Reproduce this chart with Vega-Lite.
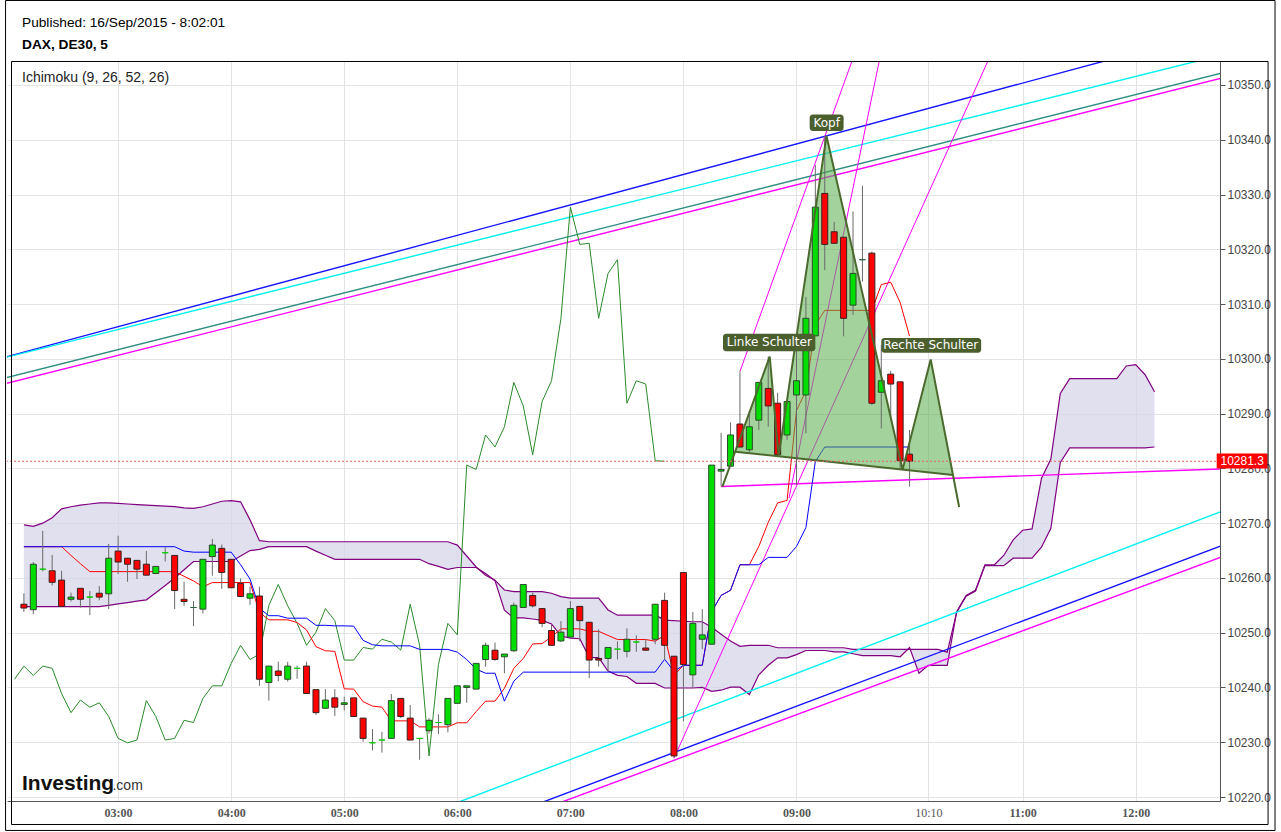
{
"$schema": "https://vega.github.io/schema/vega-lite/v6.json",
"width": 1213, "height": 740,
"autosize": {"type": "none"},
"padding": {"left": 7, "top": 61, "right": 61, "bottom": 31},
"background": "white",
"config": {"view": {"stroke": null}, "font": "Liberation Sans"},
"resolve": {"axis": {"x": "independent", "y": "independent"}},
"layer": [
{
"data": {"values": [
{"t":"02:10","a":10254.75,"b":10269.7},{"t":"02:15","a":10254.75,"b":10269.4},{"t":"02:20","a":10254.75,"b":10270.0},{"t":"02:25","a":10254.75,"b":10271.0},{"t":"02:30","a":10254.75,"b":10272.6},{"t":"02:35","a":10254.75,"b":10273.0},{"t":"02:40","a":10254.75,"b":10273.3},{"t":"02:45","a":10254.75,"b":10273.5},{"t":"02:50","a":10254.75,"b":10273.7},{"t":"02:55","a":10255.0,"b":10273.7},
{"t":"03:00","a":10255.25,"b":10273.6},{"t":"03:05","a":10255.5,"b":10273.5},{"t":"03:10","a":10255.75,"b":10273.4},{"t":"03:15","a":10256.0,"b":10273.3},{"t":"03:20","a":10257.3,"b":10273.2},{"t":"03:25","a":10258.6,"b":10273.1},{"t":"03:30","a":10260.0,"b":10273.0},{"t":"03:35","a":10261.5,"b":10272.8},{"t":"03:40","a":10263.0,"b":10272.7},{"t":"03:45","a":10263.0,"b":10273.0},{"t":"03:50","a":10263.0,"b":10273.5},{"t":"03:55","a":10263.0,"b":10274.0},
{"t":"04:00","a":10263.0,"b":10274.1},{"t":"04:05","a":10264.0,"b":10273.9},{"t":"04:10","a":10265.0,"b":10270.6},{"t":"04:15","a":10265.2,"b":10266.8},{"t":"04:20","a":10265.7,"b":10266.6},{"t":"04:40","a":10265.7,"b":10266.6},{"t":"04:45","a":10264.9,"b":10266.6},{"t":"04:50","a":10264.15,"b":10266.6},{"t":"04:55","a":10263.4,"b":10266.6},
{"t":"05:40","a":10263.4,"b":10266.6},{"t":"05:45","a":10262.6,"b":10266.6},{"t":"05:50","a":10262.1,"b":10266.6},{"t":"05:55","a":10261.55,"b":10266.6},{"t":"06:00","a":10261.9,"b":10266.0},{"t":"06:05","a":10261.9,"b":10264.0},{"t":"06:10","a":10261.9,"b":10262.0},{"t":"06:15","a":10260.8,"b":10260.5},{"t":"06:20","a":10259.5,"b":10259.6},{"t":"06:25","a":10254.1,"b":10257.8},
{"t":"06:30","a":10252.7,"b":10257.5},{"t":"06:35","a":10252.7,"b":10257.5},{"t":"06:40","a":10252.5,"b":10257.5},{"t":"06:45","a":10252.25,"b":10257.5},{"t":"06:50","a":10251.6,"b":10257.2},{"t":"06:55","a":10249.4,"b":10256.6},{"t":"07:00","a":10249.0,"b":10256.3},{"t":"07:05","a":10248.9,"b":10256.3},{"t":"07:10","a":10245.5,"b":10256.3},{"t":"07:15","a":10245.45,"b":10256.3},{"t":"07:20","a":10243.0,"b":10254.15},{"t":"07:25","a":10242.2,"b":10253.2},{"t":"07:30","a":10242.0,"b":10253.2},{"t":"07:35","a":10240.75,"b":10253.2},{"t":"07:45","a":10240.75,"b":10253.2},{"t":"07:50","a":10239.9,"b":10252.3},
{"t":"08:05","a":10239.9,"b":10252.0},{"t":"08:10","a":10240.0,"b":10252.0},{"t":"08:15","a":10239.3,"b":10251.0},{"t":"08:20","a":10239.5,"b":10249.7},{"t":"08:25","a":10240.05,"b":10248.5},{"t":"08:30","a":10240.05,"b":10247.5},{"t":"08:35","a":10238.7,"b":10247.7},{"t":"08:40","a":10242.3,"b":10247.7},{"t":"08:45","a":10244.05,"b":10247.7},{"t":"08:50","a":10245.4,"b":10247.25},{"t":"08:55","a":10245.4,"b":10247.25},{"t":"09:00","a":10246.0,"b":10247.25},{"t":"09:05","a":10246.75,"b":10247.25},{"t":"09:15","a":10246.75,"b":10247.25},{"t":"09:20","a":10246.5,"b":10247.25},{"t":"09:25","a":10246.5,"b":10247.25},{"t":"09:30","a":10246.15,"b":10246.95},{"t":"09:35","a":10245.8,"b":10246.95},{"t":"09:50","a":10245.8,"b":10246.95},{"t":"09:55","a":10245.6,"b":10246.95},
{"t":"10:00","a":10247.3,"b":10246.95},{"t":"10:05","a":10242.6,"b":10246.95},{"t":"10:10","a":10244.05,"b":10246.95},{"t":"10:15","a":10244.05,"b":10246.95},{"t":"10:20","a":10244.05,"b":10246.45},{"t":"10:25","a":10253.85,"b":10253.7},{"t":"10:30","a":10256.8,"b":10256.65},{"t":"10:35","a":10257.75,"b":10257.6},{"t":"10:40","a":10262.4,"b":10262.25},{"t":"10:45","a":10262.4,"b":10262.25},{"t":"10:50","a":10264.1,"b":10262.25},{"t":"10:55","a":10266.95,"b":10263.6},
{"t":"11:00","a":10268.7,"b":10263.6},{"t":"11:05","a":10268.95,"b":10263.6},{"t":"11:10","a":10278.15,"b":10265.6},{"t":"11:15","a":10281.7,"b":10269.05},{"t":"11:20","a":10293.7,"b":10281.1},{"t":"11:25","a":10296.4,"b":10283.75},{"t":"11:50","a":10296.4,"b":10283.75},{"t":"11:55","a":10298.7,"b":10283.75},{"t":"12:00","a":10298.95,"b":10283.75},{"t":"12:05","a":10297.1,"b":10283.75},{"t":"12:10","a":10294.0,"b":10283.9}
], "format": {"parse": {"t": "utc:'%H:%M'"}}},
"resolve": {"axis": {"x": "independent", "y": "independent"}},
"layer": [
{"mark": {"type": "area", "color": "#d6d6ea", "opacity": 0.75},
 "encoding": {
  "x": {"field": "t", "type": "temporal", "scale": {"type": "utc", "domain": [{"year":1900,"month":1,"date":1,"hours":2,"minutes":3,"seconds":41,"utc":true},{"year":1900,"month":1,"date":1,"hours":12,"minutes":42,"seconds":6,"utc":true}]},
   "axis": {"orient": "bottom", "title": null, "format": "%H:%M", "zindex": 0, "values": [
    {"year":1900,"month":1,"date":1,"hours":3,"minutes":0,"utc":true},{"year":1900,"month":1,"date":1,"hours":4,"minutes":0,"utc":true},{"year":1900,"month":1,"date":1,"hours":5,"minutes":0,"utc":true},{"year":1900,"month":1,"date":1,"hours":6,"minutes":0,"utc":true},{"year":1900,"month":1,"date":1,"hours":7,"minutes":0,"utc":true},{"year":1900,"month":1,"date":1,"hours":8,"minutes":0,"utc":true},{"year":1900,"month":1,"date":1,"hours":9,"minutes":0,"utc":true},{"year":1900,"month":1,"date":1,"hours":10,"minutes":10,"utc":true},{"year":1900,"month":1,"date":1,"hours":11,"minutes":0,"utc":true},{"year":1900,"month":1,"date":1,"hours":12,"minutes":0,"utc":true}],
    "grid": true, "gridColor": "#e4e4e4", "ticks": false, "domainColor": "#555", "labelFont": "Liberation Sans Narrow", "labelFontSize": 12, "labelColor": "#555", "labelPadding": 6, "labelFlush": false,
    "labelFontWeight": {"condition": {"test": "utchours(datum.value) == 10", "value": "normal"}, "value": "bold"}}},
  "y": {"field": "a", "type": "quantitative", "scale": {"domain": [10219.27, 10354.38], "nice": false, "zero": false},
   "axis": {"orient": "right", "title": null, "zindex": 0, "values": [10220,10230,10240,10250,10260,10270,10280,10290,10300,10310,10320,10330,10340,10350], "format": ".1f", "grid": true, "gridColor": "#e4e4e4", "tickSize": 5, "tickColor": "#555", "domainColor": "#555", "labelFont": "Liberation Sans", "labelFontSize": 12, "labelColor": "#444", "labelPadding": 2}},
  "y2": {"field": "b"}}},
{"mark": {"type": "line", "color": "#800080", "strokeWidth": 1.2},
 "encoding": {"x": {"field": "t", "type": "temporal", "axis": null}, "y": {"field": "a", "type": "quantitative", "axis": null}}},
{"mark": {"type": "line", "color": "#800080", "strokeWidth": 1.2},
 "encoding": {"x": {"field": "t", "type": "temporal", "axis": null}, "y": {"field": "b", "type": "quantitative", "axis": null}}}
]
},
{
"data": {"values": [
{"t":"02:00:00","v":10300.31,"g":"blueU"},{"t":"12:45:00","v":10360.08,"g":"blueU"},
{"t":"02:00:00","v":10300.22,"g":"cyanU"},{"t":"12:45:00","v":10355.42,"g":"cyanU"},
{"t":"02:00:00","v":10296.51,"g":"teal"},{"t":"12:45:00","v":10352.13,"g":"teal"},
{"t":"02:00:00","v":10295.47,"g":"magU"},{"t":"12:45:00","v":10351.2,"g":"magU"},
{"t":"06:30:00","v":10217.07,"g":"blueL"},{"t":"12:45:00","v":10265.8,"g":"blueL"},
{"t":"06:30:00","v":10215.83,"g":"magL"},{"t":"12:45:00","v":10263.78,"g":"magL"},
{"t":"05:15:00","v":10213.08,"g":"cyanL"},{"t":"12:45:00","v":10272.09,"g":"cyanL"},
{"t":"08:20:00","v":10276.7,"g":"neck"},{"t":"12:45:00","v":10279.9,"g":"neck"}
], "format": {"parse": {"t": "utc:'%H:%M:%S'"}}},
"mark": {"type": "line", "strokeWidth": 1.4, "clip": true},
"encoding": {
 "x": {"field": "t", "type": "temporal", "axis": null},
 "y": {"field": "v", "type": "quantitative", "axis": null},
 "detail": {"field": "g"},
 "color": {"field": "g", "type": "nominal", "legend": null, "scale": {"domain": ["blueU","cyanU","teal","magU","blueL","magL","cyanL","neck"], "range": ["#1414ff","#00f0f0","#2f8f80","#ff00ff","#1414ff","#ff00ff","#00f0f0","#ff00ff"]}}
}
},
{
"data": {"values": [
{"t":"07:55:00","v":10227.1,"g":"f1"},{"t":"10:45:00","v":10356.99,"g":"f1"},
{"t":"08:30:00","v":10297.7,"g":"f2"},{"t":"09:30:00","v":10354.88,"g":"f2"},
{"t":"08:56:00","v":10274.57,"g":"f3"},{"t":"09:44:00","v":10354.5,"g":"f3"}
], "format": {"parse": {"t": "utc:'%H:%M:%S'"}}},
"mark": {"type": "line", "strokeWidth": 1, "color": "#ff00ff", "clip": true},
"encoding": {
 "x": {"field": "t", "type": "temporal", "axis": null},
 "y": {"field": "v", "type": "quantitative", "axis": null},
 "detail": {"field": "g"}
}
},
{
"data": {"values": [
{"t":"02:05","v":10241.5},{"t":"02:10","v":10243.9},{"t":"02:15","v":10242.2},{"t":"02:20","v":10243.9},{"t":"02:25","v":10243.5},{"t":"02:30","v":10238.9},{"t":"02:35","v":10235.4},{"t":"02:40","v":10237.7},{"t":"02:45","v":10236.4},{"t":"02:50","v":10237.2},{"t":"02:55","v":10234.7},
{"t":"03:00","v":10230.7},{"t":"03:05","v":10229.9},{"t":"03:10","v":10230.4},{"t":"03:15","v":10237.6},{"t":"03:20","v":10234.7},{"t":"03:25","v":10230.4},{"t":"03:30","v":10230.7},{"t":"03:35","v":10234.0},{"t":"03:40","v":10233.6},{"t":"03:45","v":10238.0},{"t":"03:50","v":10240.3},{"t":"03:55","v":10240.3},
{"t":"04:00","v":10244.4},{"t":"04:05","v":10247.7},{"t":"04:10","v":10245.1},{"t":"04:15","v":10246.1},{"t":"04:20","v":10255.0},{"t":"04:25","v":10258.8},{"t":"04:30","v":10254.9},{"t":"04:35","v":10251.7},{"t":"04:40","v":10247.7},{"t":"04:45","v":10250.1},{"t":"04:50","v":10254.4},{"t":"04:55","v":10252.2},
{"t":"05:00","v":10245.0},{"t":"05:05","v":10245.0},{"t":"05:10","v":10247.3},{"t":"05:15","v":10247.0},{"t":"05:20","v":10248.8},{"t":"05:25","v":10248.3},{"t":"05:30","v":10246.8},{"t":"05:35","v":10255.2},{"t":"05:40","v":10247.7},{"t":"05:45","v":10227.5},{"t":"05:50","v":10244.2},{"t":"05:55","v":10251.7},
{"t":"06:00","v":10249.6},{"t":"06:05","v":10280.6},{"t":"06:10","v":10279.8},{"t":"06:15","v":10286.1},{"t":"06:20","v":10283.9},{"t":"06:25","v":10287.6},{"t":"06:30","v":10295.7},{"t":"06:35","v":10291.4},{"t":"06:40","v":10282.5},{"t":"06:45","v":10292.2},{"t":"06:50","v":10296.0},{"t":"06:55","v":10307.4},
{"t":"07:00","v":10327.7},{"t":"07:05","v":10320.9},{"t":"07:10","v":10321.1},{"t":"07:15","v":10307.4},{"t":"07:20","v":10315.6},{"t":"07:25","v":10318.1},{"t":"07:30","v":10291.9},{"t":"07:35","v":10296.0},{"t":"07:40","v":10295.4},{"t":"07:45","v":10281.4},{"t":"07:50","v":10281.3}
], "format": {"parse": {"t": "utc:'%H:%M'"}}},
"mark": {"type": "line", "color": "#2a8a2a", "strokeWidth": 1},
"encoding": {"x": {"field": "t", "type": "temporal", "axis": null}, "y": {"field": "v", "type": "quantitative", "axis": null}}
},
{
"data": {"values": [
{"t":"02:10","v":10265.7},{"t":"02:30","v":10265.7},{"t":"02:35","v":10264.1},{"t":"02:40","v":10262.6},{"t":"02:45","v":10261.15},{"t":"03:30","v":10261.15},{"t":"03:35","v":10260.3},{"t":"03:40","v":10259.45},{"t":"03:45","v":10258.4},{"t":"03:50","v":10259.15},{"t":"04:10","v":10259.15},{"t":"04:15","v":10253.7},{"t":"04:20","v":10252.35},{"t":"04:30","v":10252.35},{"t":"04:35","v":10251.85},{"t":"04:40","v":10250.5},{"t":"04:45","v":10247.45},{"t":"04:50","v":10246.7},{"t":"04:55","v":10246.6},
{"t":"05:00","v":10239.75},{"t":"05:05","v":10239.7},{"t":"05:10","v":10237.4},{"t":"05:15","v":10236.6},{"t":"05:20","v":10236.4},{"t":"05:25","v":10233.9},{"t":"05:35","v":10233.9},{"t":"05:40","v":10232.8},{"t":"05:55","v":10232.8},{"t":"06:00","v":10233.55},{"t":"06:05","v":10233.55},{"t":"06:10","v":10235.6},{"t":"06:15","v":10237.5},{"t":"06:20","v":10237.5},{"t":"06:25","v":10239.85},{"t":"06:30","v":10243.5},{"t":"06:35","v":10245.3},{"t":"06:40","v":10247.95},{"t":"06:45","v":10248.0},{"t":"06:50","v":10249.25},{"t":"06:55","v":10250.7},
{"t":"07:05","v":10250.7},{"t":"07:10","v":10250.25},{"t":"07:15","v":10250.25},{"t":"07:20","v":10249.5},{"t":"07:25","v":10248.75},{"t":"07:40","v":10248.75},{"t":"07:45","v":10248.45},{"t":"07:50","v":10249.5},{"t":"07:55","v":10242.2},{"t":"08:00","v":10244.05},{"t":"08:10","v":10244.05},{"t":"08:15","v":10253.85},{"t":"08:20","v":10256.8},{"t":"08:25","v":10257.75},{"t":"08:30","v":10262.4},{"t":"08:35","v":10262.4},{"t":"08:40","v":10265.75},{"t":"08:45","v":10270.15},{"t":"08:50","v":10273.7},{"t":"08:55","v":10274.15},
{"t":"09:00","v":10290.55},{"t":"09:05","v":10294.15},{"t":"09:10","v":10306.2},{"t":"09:15","v":10308.85},{"t":"09:40","v":10308.85},{"t":"09:45","v":10313.55},{"t":"09:50","v":10314.0},{"t":"09:55","v":10310.3},{"t":"10:00","v":10304.15}
], "format": {"parse": {"t": "utc:'%H:%M'"}}},
"mark": {"type": "line", "color": "#ff0000", "strokeWidth": 1},
"encoding": {"x": {"field": "t", "type": "temporal", "axis": null}, "y": {"field": "v", "type": "quantitative", "axis": null}}
},
{
"data": {"values": [
{"t":"02:10","v":10265.7},{"t":"03:30","v":10265.7},{"t":"03:35","v":10264.9},{"t":"03:40","v":10264.7},{"t":"04:00","v":10264.7},{"t":"04:05","v":10262.4},{"t":"04:10","v":10259.8},{"t":"04:15","v":10254.45},{"t":"04:20","v":10253.1},{"t":"04:25","v":10253.1},{"t":"04:30","v":10252.65},{"t":"04:40","v":10252.65},{"t":"04:45","v":10251.35},{"t":"04:50","v":10251.35},{"t":"04:55","v":10251.25},{"t":"05:00","v":10251.25},{"t":"05:05","v":10251.2},{"t":"05:10","v":10248.6},{"t":"05:15","v":10247.8},{"t":"05:20","v":10247.6},{"t":"05:35","v":10247.6},{"t":"05:40","v":10246.95},{"t":"05:55","v":10246.95},
{"t":"06:00","v":10246.45},{"t":"06:05","v":10245.1},{"t":"06:10","v":10243.35},{"t":"06:15","v":10242.6},{"t":"06:20","v":10242.6},{"t":"06:25","v":10237.5},{"t":"06:30","v":10241.15},{"t":"06:35","v":10242.8},{"t":"07:45","v":10242.8},{"t":"07:50","v":10245.15},{"t":"07:55","v":10242.95},{"t":"08:00","v":10244.05},{"t":"08:10","v":10244.05},{"t":"08:15","v":10253.85},{"t":"08:20","v":10256.8},{"t":"08:25","v":10257.75},{"t":"08:30","v":10262.4},{"t":"08:40","v":10262.4},{"t":"08:45","v":10263.75},{"t":"08:55","v":10263.75},
{"t":"09:00","v":10265.75},{"t":"09:05","v":10269.2},{"t":"09:10","v":10281.25},{"t":"09:15","v":10283.9},{"t":"10:00","v":10283.9}
], "format": {"parse": {"t": "utc:'%H:%M'"}}},
"mark": {"type": "line", "color": "#0000ff", "strokeWidth": 1},
"encoding": {"x": {"field": "t", "type": "temporal", "axis": null}, "y": {"field": "v", "type": "quantitative", "axis": null}}
},
{
"data": {"values": [
{"t":"08:27:25","v":10283.05,"w":10283.05},{"t":"08:45:48","v":10300.4,"w":10282.37},{"t":"08:50:32","v":10282.2,"w":10282.2},{"t":"09:15:55","v":10340.7,"w":10281.28},{"t":"09:56:19","v":10279.8,"w":10279.8},{"t":"10:11:13","v":10299.9,"w":10279.25},{"t":"10:23:03","v":10278.79,"w":10278.79}
], "format": {"parse": {"t": "utc:'%H:%M:%S'"}}},
"mark": {"type": "area", "color": "#5aad4a", "opacity": 0.55},
"encoding": {"x": {"field": "t", "type": "temporal", "axis": null}, "y": {"field": "v", "type": "quantitative", "axis": null}, "y2": {"field": "w"}}
},
{
"data": {"values": [
{"t":"02:10","o":10255.2,"h":10257.2,"l":10253.8,"c":10254.5,"d":"d"},
{"t":"02:15","o":10254.2,"h":10262.9,"l":10253.4,"c":10262.5,"d":"u"},
{"t":"02:20","o":10261.6,"h":10268.6,"l":10261.2,"c":10261.6,"d":"n"},
{"t":"02:25","o":10261.3,"h":10264.2,"l":10258.6,"c":10259.2,"d":"d"},
{"t":"02:30","o":10259.6,"h":10261.3,"l":10254.8,"c":10254.8,"d":"d"},
{"t":"02:35","o":10256.1,"h":10257.3,"l":10255.7,"c":10256.5,"d":"u"},
{"t":"02:40","o":10258.1,"h":10258.1,"l":10254.6,"c":10256.1,"d":"d"},
{"t":"02:45","o":10256.5,"h":10257.6,"l":10253.2,"c":10256.5,"d":"n"},
{"t":"02:50","o":10257.2,"h":10258.5,"l":10255.9,"c":10256.5,"d":"d"},
{"t":"02:55","o":10257.1,"h":10266.2,"l":10254.3,"c":10263.6,"d":"u"},
{"t":"03:00","o":10264.9,"h":10267.7,"l":10260.7,"c":10262.9,"d":"d"},
{"t":"03:05","o":10263.6,"h":10263.6,"l":10259.3,"c":10262.5,"d":"d"},
{"t":"03:10","o":10263.2,"h":10263.2,"l":10259.8,"c":10261.6,"d":"d"},
{"t":"03:15","o":10262.5,"h":10264.9,"l":10260.5,"c":10260.5,"d":"d"},
{"t":"03:20","o":10260.8,"h":10262.1,"l":10260.8,"c":10262.1,"d":"u"},
{"t":"03:25","o":10264.6,"h":10265.6,"l":10263.0,"c":10264.6,"d":"n"},
{"t":"03:30","o":10264.1,"h":10264.1,"l":10254.3,"c":10257.7,"d":"d"},
{"t":"03:35","o":10256.1,"h":10259.3,"l":10254.9,"c":10255.7,"d":"d"},
{"t":"03:40","o":10254.6,"h":10255.8,"l":10251.2,"c":10254.6,"d":"m"},
{"t":"03:45","o":10254.3,"h":10263.4,"l":10253.5,"c":10263.4,"d":"u"},
{"t":"03:50","o":10263.9,"h":10267.1,"l":10260.4,"c":10266.0,"d":"u"},
{"t":"03:55","o":10265.4,"h":10266.1,"l":10258.0,"c":10261.0,"d":"d"},
{"t":"04:00","o":10263.4,"h":10263.4,"l":10258.2,"c":10258.2,"d":"d"},
{"t":"04:05","o":10259.0,"h":10259.9,"l":10256.6,"c":10256.6,"d":"d"},
{"t":"04:10","o":10256.3,"h":10258.4,"l":10255.1,"c":10257.1,"d":"u"},
{"t":"04:15","o":10256.7,"h":10258.4,"l":10240.3,"c":10241.5,"d":"d"},
{"t":"04:20","o":10240.9,"h":10243.9,"l":10237.6,"c":10243.9,"d":"u"},
{"t":"04:25","o":10243.0,"h":10244.7,"l":10241.1,"c":10242.2,"d":"d"},
{"t":"04:30","o":10241.5,"h":10244.7,"l":10241.1,"c":10243.9,"d":"u"},
{"t":"04:35","o":10243.5,"h":10244.0,"l":10241.6,"c":10243.5,"d":"n"},
{"t":"04:40","o":10243.9,"h":10244.7,"l":10238.9,"c":10238.9,"d":"d"},
{"t":"04:45","o":10239.6,"h":10239.6,"l":10235.0,"c":10235.4,"d":"d"},
{"t":"04:50","o":10236.2,"h":10239.7,"l":10236.2,"c":10237.7,"d":"u"},
{"t":"04:55","o":10238.1,"h":10239.7,"l":10234.8,"c":10236.4,"d":"d"},
{"t":"05:00","o":10236.9,"h":10238.3,"l":10235.8,"c":10237.2,"d":"u"},
{"t":"05:05","o":10238.1,"h":10238.1,"l":10234.7,"c":10234.7,"d":"d"},
{"t":"05:10","o":10234.4,"h":10234.4,"l":10230.1,"c":10230.7,"d":"d"},
{"t":"05:15","o":10229.9,"h":10232.4,"l":10228.5,"c":10229.9,"d":"n"},
{"t":"05:20","o":10230.4,"h":10231.9,"l":10228.1,"c":10230.4,"d":"n"},
{"t":"05:25","o":10230.7,"h":10238.8,"l":10230.7,"c":10237.6,"d":"u"},
{"t":"05:30","o":10238.0,"h":10238.0,"l":10234.4,"c":10234.7,"d":"d"},
{"t":"05:35","o":10234.4,"h":10236.8,"l":10230.4,"c":10230.4,"d":"d"},
{"t":"05:40","o":10230.7,"h":10230.7,"l":10226.8,"c":10230.7,"d":"n"},
{"t":"05:45","o":10232.1,"h":10234.4,"l":10231.6,"c":10234.0,"d":"u"},
{"t":"05:50","o":10233.6,"h":10235.1,"l":10231.5,"c":10233.6,"d":"n"},
{"t":"05:55","o":10233.2,"h":10238.0,"l":10231.8,"c":10238.0,"d":"u"},
{"t":"06:00","o":10237.1,"h":10240.3,"l":10237.1,"c":10240.3,"d":"u"},
{"t":"06:05","o":10240.0,"h":10240.3,"l":10237.2,"c":10240.3,"d":"u"},
{"t":"06:10","o":10239.7,"h":10244.4,"l":10239.7,"c":10244.4,"d":"u"},
{"t":"06:15","o":10245.1,"h":10248.2,"l":10243.8,"c":10247.7,"d":"u"},
{"t":"06:20","o":10246.8,"h":10248.2,"l":10244.9,"c":10245.1,"d":"d"},
{"t":"06:25","o":10245.6,"h":10246.1,"l":10242.6,"c":10246.1,"d":"u"},
{"t":"06:30","o":10246.7,"h":10255.5,"l":10246.5,"c":10255.0,"d":"u"},
{"t":"06:35","o":10254.6,"h":10258.8,"l":10254.6,"c":10258.8,"d":"u"},
{"t":"06:40","o":10256.8,"h":10257.3,"l":10254.6,"c":10254.9,"d":"d"},
{"t":"06:45","o":10254.4,"h":10254.4,"l":10251.0,"c":10251.7,"d":"d"},
{"t":"06:50","o":10250.4,"h":10251.4,"l":10247.7,"c":10247.7,"d":"d"},
{"t":"06:55","o":10248.5,"h":10252.1,"l":10248.3,"c":10250.1,"d":"u"},
{"t":"07:00","o":10249.2,"h":10255.8,"l":10249.2,"c":10254.4,"d":"u"},
{"t":"07:05","o":10254.8,"h":10254.8,"l":10248.4,"c":10252.2,"d":"d"},
{"t":"07:10","o":10251.9,"h":10251.9,"l":10241.7,"c":10245.0,"d":"d"},
{"t":"07:15","o":10245.3,"h":10250.6,"l":10243.8,"c":10245.0,"d":"d"},
{"t":"07:20","o":10245.3,"h":10247.3,"l":10242.9,"c":10247.3,"d":"u"},
{"t":"07:25","o":10247.0,"h":10248.4,"l":10245.1,"c":10247.0,"d":"n"},
{"t":"07:30","o":10246.6,"h":10250.8,"l":10245.5,"c":10248.8,"d":"u"},
{"t":"07:35","o":10248.3,"h":10249.5,"l":10246.5,"c":10248.3,"d":"n"},
{"t":"07:40","o":10247.2,"h":10248.8,"l":10246.8,"c":10246.8,"d":"d"},
{"t":"07:45","o":10248.8,"h":10255.2,"l":10247.9,"c":10255.2,"d":"u"},
{"t":"07:50","o":10255.9,"h":10257.3,"l":10245.0,"c":10247.7,"d":"d"},
{"t":"07:55","o":10245.7,"h":10245.7,"l":10227.1,"c":10227.5,"d":"d"},
{"t":"08:00","o":10261.0,"h":10261.0,"l":10233.8,"c":10244.2,"d":"d"},
{"t":"08:05","o":10242.3,"h":10253.8,"l":10239.9,"c":10251.7,"d":"u"},
{"t":"08:10","o":10248.8,"h":10254.3,"l":10247.0,"c":10249.6,"d":"u"},
{"t":"08:15","o":10247.9,"h":10280.6,"l":10247.9,"c":10280.6,"d":"u"},
{"t":"08:20","o":10279.5,"h":10286.5,"l":10276.7,"c":10279.8,"d":"u"},
{"t":"08:25","o":10280.4,"h":10288.4,"l":10280.4,"c":10286.1,"d":"u"},
{"t":"08:30","o":10288.1,"h":10297.7,"l":10283.9,"c":10283.9,"d":"d"},
{"t":"08:35","o":10283.4,"h":10290.4,"l":10282.8,"c":10287.6,"d":"u"},
{"t":"08:40","o":10288.8,"h":10295.7,"l":10287.0,"c":10295.7,"d":"u"},
{"t":"08:45","o":10294.6,"h":10300.4,"l":10287.6,"c":10291.4,"d":"d"},
{"t":"08:50","o":10291.9,"h":10293.8,"l":10282.2,"c":10282.5,"d":"d"},
{"t":"08:55","o":10286.1,"h":10292.2,"l":10285.2,"c":10292.2,"d":"u"},
{"t":"09:00","o":10293.4,"h":10304.4,"l":10277.0,"c":10296.0,"d":"u"},
{"t":"09:05","o":10293.4,"h":10311.3,"l":10286.4,"c":10307.4,"d":"u"},
{"t":"09:10","o":10304.2,"h":10335.4,"l":10304.2,"c":10327.7,"d":"u"},
{"t":"09:15","o":10330.2,"h":10340.7,"l":10316.2,"c":10320.9,"d":"d"},
{"t":"09:20","o":10323.2,"h":10325.0,"l":10321.1,"c":10321.1,"d":"d"},
{"t":"09:25","o":10322.2,"h":10322.2,"l":10304.1,"c":10307.4,"d":"d"},
{"t":"09:30","o":10309.8,"h":10326.9,"l":10308.0,"c":10315.6,"d":"u"},
{"t":"09:35","o":10318.1,"h":10331.6,"l":10314.1,"c":10318.1,"d":"m"},
{"t":"09:40","o":10319.3,"h":10319.6,"l":10291.6,"c":10291.9,"d":"d"},
{"t":"09:45","o":10293.9,"h":10302.5,"l":10287.3,"c":10296.0,"d":"u"},
{"t":"09:50","o":10297.2,"h":10297.8,"l":10288.8,"c":10295.4,"d":"d"},
{"t":"09:55","o":10295.8,"h":10295.8,"l":10279.9,"c":10281.4,"d":"d"},
{"t":"10:00","o":10282.6,"h":10287.0,"l":10276.7,"c":10281.3,"d":"d"}
], "format": {"parse": {"t": "utc:'%H:%M'"}}},
"layer": [
{"mark": {"type": "rule", "color": "#6a6a6a", "strokeWidth": 1},
 "encoding": {"x": {"field": "t", "type": "temporal", "axis": null}, "y": {"field": "h", "type": "quantitative", "axis": null}, "y2": {"field": "l"}}},
{"mark": {"type": "bar", "width": 6, "strokeWidth": 1},
 "encoding": {"x": {"field": "t", "type": "temporal", "axis": null}, "y": {"field": "o", "type": "quantitative", "axis": null}, "y2": {"field": "c"},
  "fill": {"field": "d", "type": "nominal", "legend": null, "scale": {"domain": ["u","d","n","m"], "range": ["#00dd00","#ff0000","#00cc00","#2f6040"]}},
  "stroke": {"field": "d", "type": "nominal", "legend": null, "scale": {"domain": ["u","d","n","m"], "range": ["#2e4a2e","#3a2020","#00cc00","#2f6040"]}}}}
]
},
{
"data": {"values": [
{"t":"08:20:42","v":10276.66,"o":1},{"t":"08:45:48","v":10300.4,"o":2},{"t":"08:50:32","v":10282.2,"o":3},{"t":"09:15:55","v":10340.7,"o":4},{"t":"09:56:19","v":10279.8,"o":5},{"t":"10:11:13","v":10299.9,"o":6},{"t":"10:26:19","v":10272.95,"o":7},
{"t":"08:27:25","v":10283.05,"o":8,"g":"n"},{"t":"10:23:03","v":10278.79,"o":9,"g":"n"}
], "format": {"parse": {"t": "utc:'%H:%M:%S'"}}},
"mark": {"type": "line", "color": "#4b6a2e", "strokeWidth": 2},
"encoding": {"x": {"field": "t", "type": "temporal", "axis": null}, "y": {"field": "v", "type": "quantitative", "axis": null}, "detail": {"field": "g"}, "order": {"field": "o"}}
},
{
"data": {"values": [{"v": 10281.3}]},
"mark": {"type": "rule", "color": "#e06060", "strokeWidth": 1, "strokeDash": [2, 2]},
"encoding": {"y": {"field": "v", "type": "quantitative", "axis": null}}
},
{
"data": {"values": [
{"t":"09:07:00","t2":"09:25:00","v":10344.6,"v2":10341.6,"tx":"09:09:00","ty":10343.1,"txt":"Kopf"},
{"t":"08:21:00","t2":"09:10:00","v":10304.6,"v2":10301.4,"tx":"08:23:00","ty":10303.0,"txt":"Linke Schulter"},
{"t":"09:45:00","t2":"10:38:00","v":10303.8,"v2":10301.1,"tx":"09:46:00","ty":10302.45,"txt":"Rechte Schulter"}
], "format": {"parse": {"t": "utc:'%H:%M:%S'", "t2": "utc:'%H:%M:%S'", "tx": "utc:'%H:%M:%S'"}}},
"layer": [
{"mark": {"type": "rect", "color": "#4b5e2d", "cornerRadius": 3},
 "encoding": {"x": {"field": "t", "type": "temporal", "axis": null}, "x2": {"field": "t2"}, "y": {"field": "v", "type": "quantitative", "axis": null}, "y2": {"field": "v2"}}},
{"mark": {"type": "text", "color": "white", "font": "DejaVu Sans", "fontSize": 12, "align": "left", "baseline": "middle"},
 "encoding": {"x": {"field": "tx", "type": "temporal", "axis": null}, "y": {"field": "ty", "type": "quantitative", "axis": null}, "text": {"field": "txt"}}}
]
},
{
"data": {"values": [{"t":"12:43:00","t2":"13:10:00","v":10282.7,"v2":10280.0,"tx":"12:45:00","ty":10281.35,"txt":"10281.3"}],
 "format": {"parse": {"t": "utc:'%H:%M:%S'", "t2": "utc:'%H:%M:%S'", "tx": "utc:'%H:%M:%S'"}}},
"layer": [
{"mark": {"type": "rect", "color": "#ff0000"},
 "encoding": {"x": {"field": "t", "type": "temporal", "axis": null}, "x2": {"field": "t2"}, "y": {"field": "v", "type": "quantitative", "axis": null}, "y2": {"field": "v2"}}},
{"mark": {"type": "text", "color": "white", "font": "Liberation Sans", "fontSize": 12, "align": "left", "baseline": "middle"},
 "encoding": {"x": {"field": "tx", "type": "temporal", "axis": null}, "y": {"field": "ty", "type": "quantitative", "axis": null}, "text": {"field": "txt"}}}
]
},
{
"data": {"values": [
{"t":"02:09:00","v":10360.65,"txt":"Published: 16/Sep/2015 - 8:02:01","w":"normal"},
{"t":"02:09:00","v":10356.52,"txt":"DAX, DE30, 5","w":"bold"}
], "format": {"parse": {"t": "utc:'%H:%M:%S'"}}},
"layer": [
{"transform": [{"filter": "datum.w == 'normal'"}],
 "mark": {"type": "text", "color": "#000", "font": "Liberation Sans", "fontSize": 13.7, "align": "left", "baseline": "alphabetic"},
 "encoding": {"x": {"field": "t", "type": "temporal", "axis": null}, "y": {"field": "v", "type": "quantitative", "axis": null}, "text": {"field": "txt"}}},
{"transform": [{"filter": "datum.w == 'bold'"}],
 "mark": {"type": "text", "color": "#000", "font": "Liberation Sans", "fontSize": 13.7, "fontWeight": "bold", "align": "left", "baseline": "alphabetic"},
 "encoding": {"x": {"field": "t", "type": "temporal", "axis": null}, "y": {"field": "v", "type": "quantitative", "axis": null}, "text": {"field": "txt"}}}
]
},
{
"data": {"values": [{"t":"02:09:00","v":10350.6,"txt":"Ichimoku (9, 26, 52, 26)"}], "format": {"parse": {"t": "utc:'%H:%M:%S'"}}},
"mark": {"type": "text", "color": "#222", "font": "Liberation Sans", "fontSize": 14, "align": "left", "baseline": "alphabetic"},
"encoding": {"x": {"field": "t", "type": "temporal", "axis": null}, "y": {"field": "v", "type": "quantitative", "axis": null}, "text": {"field": "txt"}}
},
{
"data": {"values": [{"t":"02:09:00","v":10221.35,"txt":"Investing"}], "format": {"parse": {"t": "utc:'%H:%M:%S'"}}},
"mark": {"type": "text", "color": "#111", "font": "Liberation Sans", "fontSize": 21, "fontWeight": "bold", "align": "left", "baseline": "alphabetic"},
"encoding": {"x": {"field": "t", "type": "temporal", "axis": null}, "y": {"field": "v", "type": "quantitative", "axis": null}, "text": {"field": "txt"}}
},
{
"data": {"values": [{"t":"02:57:00","v":10221.35,"txt":".com"}], "format": {"parse": {"t": "utc:'%H:%M:%S'"}}},
"mark": {"type": "text", "color": "#333", "font": "Liberation Sans", "fontSize": 14, "align": "left", "baseline": "alphabetic"},
"encoding": {"x": {"field": "t", "type": "temporal", "axis": null}, "y": {"field": "v", "type": "quantitative", "axis": null}, "text": {"field": "txt"}}
},
{
"data": {"values": [
{"t":"02:00:16","t2":"13:13:57","v":10365.43,"v2":10213.89},
{"t":"02:03:25","t2":"13:10:16","v":10354.29,"v2":10214.98}
], "format": {"parse": {"t": "utc:'%H:%M:%S'", "t2": "utc:'%H:%M:%S'"}}},
"mark": {"type": "rect", "fill": null, "fillOpacity": 0, "stroke": "#000", "strokeWidth": 1},
"encoding": {"x": {"field": "t", "type": "temporal", "axis": null}, "x2": {"field": "t2"}, "y": {"field": "v", "type": "quantitative", "axis": null}, "y2": {"field": "v2"}}
}
]
}
